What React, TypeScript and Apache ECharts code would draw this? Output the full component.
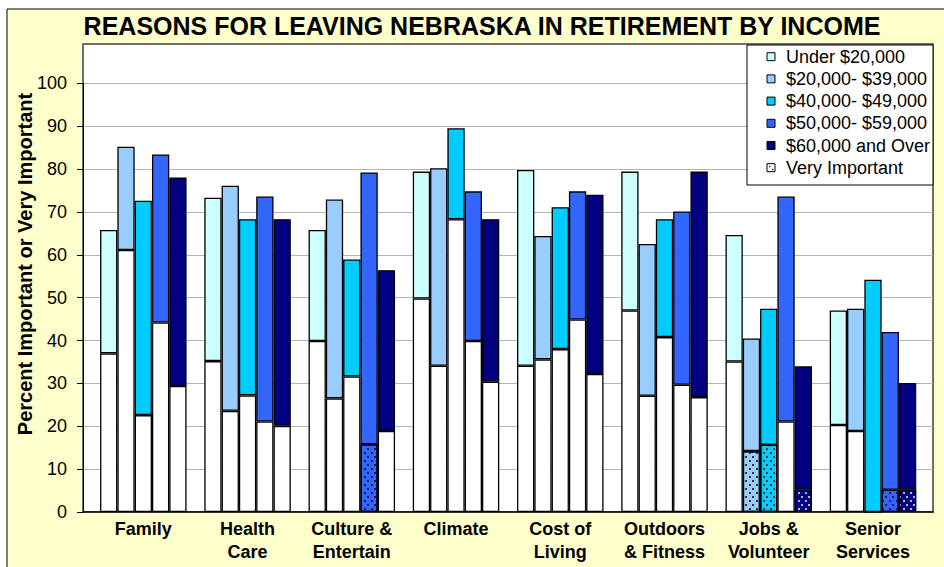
import React, { useEffect, useRef } from "react";
import * as echarts from "echarts";

const categories = [
  "Family",
  "Health\nCare",
  "Culture &\nEntertain",
  "Climate",
  "Cost of\nLiving",
  "Outdoors\n& Fitness",
  "Jobs &\nVolunteer",
  "Senior\nServices",
];

const incomeGroups = [
  "Under $20,000",
  "$20,000- $39,000",
  "$40,000- $49,000",
  "$50,000- $59,000",
  "$60,000 and Over",
];

// Percent "Important or Very Important" (bar total) per income group
const under20Total = [65.8, 73.3, 65.8, 79.4, 79.8, 79.4, 64.6, 47.0];
const inc20to39Total = [85.2, 76.1, 72.9, 80.2, 64.4, 62.5, 40.5, 47.4];
const inc40to49Total = [72.6, 68.3, 58.9, 89.5, 71.1, 68.3, 47.4, 54.2];
const inc50to59Total = [83.4, 73.6, 79.2, 74.8, 74.8, 70.1, 73.6, 42.0];
const inc60plusTotal = [78.0, 68.3, 56.4, 68.3, 74.0, 79.4, 34.0, 30.1];

// Lower segment of each bar
const under20Lower = [37.0, 35.2, 39.9, 49.8, 34.1, 47.0, 35.1, 20.3];
const inc20to39Lower = [61.1, 23.6, 26.5, 34.1, 35.6, 27.1, 14.2, 18.9];
const inc40to49Lower = [22.6, 27.2, 31.6, 68.3, 38.0, 40.8, 15.7, 0];
const inc50to59Lower = [44.2, 21.1, 15.8, 39.9, 44.9, 29.7, 21.1, 5.2];
const inc60plusLower = [29.4, 20.1, 18.9, 30.4, 32.2, 26.8, 5.2, 5.2];

// Lower segments drawn as "Very Important" pattern
const under20Dotted = [false, false, false, false, false, false, false, false];
const inc20to39Dotted = [false, false, false, false, false, false, true, false];
const inc40to49Dotted = [false, false, false, false, false, false, true, false];
const inc50to59Dotted = [false, false, true, false, false, false, false, true];
const inc60plusDotted = [false, false, false, false, false, false, true, true];

const yTicks = [0, 10, 20, 30, 40, 50, 60, 70, 80, 90, 100];

const totals = [under20Total, inc20to39Total, inc40to49Total, inc50to59Total, inc60plusTotal];
const lowers = [under20Lower, inc20to39Lower, inc40to49Lower, inc50to59Lower, inc60plusLower];
const dotted = [under20Dotted, inc20to39Dotted, inc40to49Dotted, inc50to59Dotted, inc60plusDotted];

const colors = ["#CCFFFF", "#99CCFF", "#00CCFF", "#3366FF", "#000080"];
const dotColors = ["#333333", "#333333", "#333333", "#1a1a60", "#aab4ff"];
const FONT = "'Liberation Sans', Arial, sans-serif";

export default function App() {
  const ref = useRef<HTMLDivElement>(null);

  useEffect(() => {
    if (!ref.current) return;
    const chart = echarts.init(ref.current, undefined, { renderer: "svg" });

    const series: any[] = [];
    incomeGroups.forEach((name, g) => {
      series.push({
        type: "bar",
        name: name + " (lower)",
        xAxisIndex: 1,
        yAxisIndex: 1,
        stack: "s" + g,
        barWidth: 17.3,
        barGap: "0%",
        data: lowers[g].map((v, i) => ({
          value: v,
          itemStyle: dotted[g][i]
            ? {
                color: colors[g],
                borderColor: "#000",
                borderWidth: 1.3,
                decal: {
                  symbol: "rect",
                  symbolSize: 1,
                  color: dotColors[g],
                  dashArrayX: [
                    [1.5, 4.5],
                    [0, 3, 1.5, 1.5],
                  ],
                  dashArrayY: [1.5, 2],
                },
              }
            : { color: "#FFFFFF", borderColor: "#000", borderWidth: 1.3 },
        })),
      });
      series.push({
        type: "bar",
        name,
        xAxisIndex: 1,
        yAxisIndex: 1,
        stack: "s" + g,
        barWidth: 17.3,
        barGap: "0%",
        itemStyle: { color: colors[g], borderColor: "#000", borderWidth: 1.3 },
        data: totals[g].map((t, i) => Math.round((t - lowers[g][i]) * 10) / 10),
      });
    });

    const legendRowY = (k: number) => 56.7 + k * 22.2;
    const legendEls: any[] = [
      {
        type: "rect",
        z: 20,
        shape: { x: 747, y: 45, width: 186, height: 140 },
        style: { fill: "#FFFFFF", stroke: "#000", lineWidth: 1 },
      },
    ];
    incomeGroups.forEach((name, k) => {
      legendEls.push({
        type: "rect",
        z: 21,
        shape: { x: 767, y: legendRowY(k) - 4, width: 8, height: 8 },
        style: { fill: colors[k], stroke: "#000", lineWidth: 1 },
      });
      legendEls.push({
        type: "text",
        z: 21,
        x: 786,
        y: legendRowY(k),
        style: { text: name, font: `18px ${FONT}`, fill: "#000", verticalAlign: "middle", align: "left" },
      });
    });
    const vy = legendRowY(5);
    legendEls.push({
      type: "rect",
      z: 21,
      shape: { x: 767, y: vy - 4, width: 8, height: 8 },
      style: { fill: "#FFFFFF", stroke: "#000", lineWidth: 1 },
    });
    [[769, vy - 2], [772, vy + 1]].forEach(([dx, dy]) => {
      legendEls.push({
        type: "rect",
        z: 22,
        shape: { x: dx, y: dy, width: 1.5, height: 1.5 },
        style: { fill: "#333" },
      });
    });
    legendEls.push({
      type: "text",
      z: 21,
      x: 786,
      y: vy,
      style: { text: "Very Important", font: `18px ${FONT}`, fill: "#000", verticalAlign: "middle", align: "left" },
    });

    chart.setOption({
      animation: false,
      backgroundColor: "#FFFFFF",
      grid: [
        { left: 83, right: 11, top: 83.3, bottom: 55 },
        { left: 91.2, right: 18.9, top: 83.3, bottom: 55 },
      ],
      xAxis: [
        {
          type: "value",
          gridIndex: 0,
          min: 0,
          max: 1,
          axisLine: { show: true, lineStyle: { color: "#000", width: 1.5 } },
          axisTick: { show: false },
          axisLabel: { show: false },
          splitLine: { show: false },
        },
        {
          type: "category",
          gridIndex: 1,
          data: categories,
          axisLine: { show: false },
          axisTick: { show: false },
          axisLabel: {
            interval: 0,
            margin: 5,
            color: "#000",
            fontFamily: FONT,
            fontWeight: "bold",
            fontSize: 18,
            lineHeight: 23.5,
          },
        },
      ],
      yAxis: [
        {
          type: "value",
          gridIndex: 0,
          min: yTicks[0],
          max: yTicks[yTicks.length - 1],
          interval: 10,
          axisLine: { show: true, lineStyle: { color: "#000", width: 1 } },
          axisTick: { show: true, length: 6, lineStyle: { color: "#000" } },
          axisLabel: { margin: 16, color: "#000", fontFamily: FONT, fontSize: 18 },
          splitLine: { show: true, lineStyle: { color: "#B4B4B4", width: 1 } },
        },
        {
          type: "value",
          gridIndex: 1,
          min: yTicks[0],
          max: yTicks[yTicks.length - 1],
          interval: 10,
          show: false,
          splitLine: { show: false },
        },
      ],
      series,
      graphic: {
        elements: [
          {
            type: "rect",
            z: -10,
            silent: true,
            shape: { x: 7, y: 9, width: 960, height: 580 },
            style: { fill: "#FFFFCC", stroke: "#000", lineWidth: 1 },
          },
          {
            type: "rect",
            z: -9,
            silent: true,
            shape: { x: 83, y: 44, width: 850, height: 468 },
            style: { fill: "#FFFFFF", stroke: "#404040", lineWidth: 1.5 },
          },
          {
            type: "text",
            z: 10,
            x: 482,
            y: 26,
            style: {
              text: "REASONS FOR LEAVING NEBRASKA IN RETIREMENT BY INCOME",
              font: `bold 25px ${FONT}`,
              fill: "#000",
              align: "center",
              verticalAlign: "middle",
            },
          },
          {
            type: "text",
            z: 10,
            x: 24.5,
            y: 264,
            rotation: Math.PI / 2,
            style: {
              text: "Percent Important or Very Important",
              font: `bold 20px ${FONT}`,
              fill: "#000",
              align: "center",
              verticalAlign: "middle",
            },
          },
          ...legendEls,
        ],
      },
    });

    return () => chart.dispose();
  }, []);

  return (
    <div
      ref={ref}
      style={{ position: "absolute", left: 0, top: 0, width: 944, height: 567, background: "#fff" }}
    />
  );
}
